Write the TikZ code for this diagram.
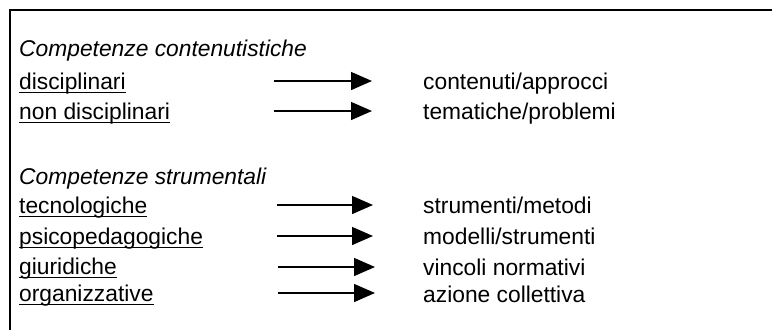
\documentclass[tikz,border=0pt]{standalone}
\usepackage{fontspec}
\setmainfont{Liberation Sans}
\usetikzlibrary{arrows.meta}
\begin{document}
\begin{tikzpicture}[x=1pt,y=-1pt,
  txt/.style={anchor=base west,inner sep=0pt,font=\fontsize{22.8}{26}\selectfont},
  head/.style={txt,font=\fontsize{22.8}{26}\selectfont\itshape},
  uline/.style={line width=1.5pt},
  arr/.style={line width=1.4pt,-{Triangle[length=21pt,width=18pt]}},
  frame/.style={line width=2pt}]
\useasboundingbox (0,0) rectangle (772,330);
\draw[frame] (10,330) -- (10,10) -- (772,10);
% headings
\node[head] (h1) at (19,56) {Competenze contenutistiche};
\node[head] (h2) at (19,184) {Competenze strumentali};
% left items
\node[txt] (l1) at (19,89) {disciplinari};
\node[txt] (l2) at (19,119) {non disciplinari};
\node[txt] (l3) at (19,213) {tecnologiche};
\node[txt] (l4) at (19,244) {psicopedagogiche};
\node[txt] (l5) at (19,274) {giuridiche};
\node[txt] (l6) at (19,301) {organizzative};
\foreach \n in {l1,l2,l3,l4,l5,l6}{
  \draw[uline] ([yshift=-3.3pt]\n.base west) -- ([yshift=-3.3pt]\n.base east);
}
% right items
\node[txt] (r1) at (423,89) {contenuti/approcci};
\node[txt] (r2) at (423,119) {tematiche/problemi};
\node[txt] (r3) at (423,213) {strumenti/metodi};
\node[txt] (r4) at (423,244) {modelli/strumenti};
\node[txt] (r5) at (423,275) {vincoli normativi};
\node[txt] (r6) at (423,302) {azione collettiva};
% arrows
\coordinate (s1) at (274,81);  \coordinate (e1) at (372,81);
\coordinate (s2) at (274,111); \coordinate (e2) at (372,111);
\coordinate (s3) at (277,205); \coordinate (e3) at (373,205);
\coordinate (s4) at (277,236); \coordinate (e4) at (373,236);
\coordinate (s5) at (278,267); \coordinate (e5) at (375,267);
\coordinate (s6) at (278,293); \coordinate (e6) at (375,293);
\foreach \i in {1,...,6}{\draw[arr] (s\i) -- (e\i);}
\end{tikzpicture}
\end{document}
